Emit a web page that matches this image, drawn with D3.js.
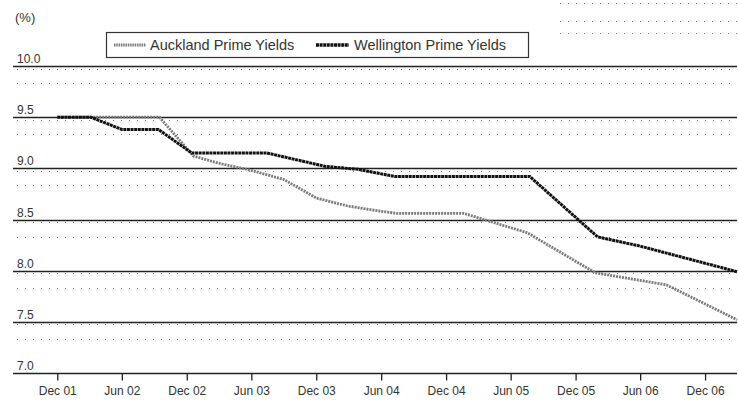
<!DOCTYPE html>
<html>
<head>
<meta charset="utf-8">
<script src="https://cdn.jsdelivr.net/npm/d3@7"></script>
<style>
  html, body { margin: 0; padding: 0; background: #fff; }
  svg { display: block; }
  text { font-family: "Liberation Sans", Arial, Helvetica, sans-serif; fill: #333; }
</style>
</head>
<body>
<svg id="chart" width="739" height="400"></svg>
<script>
// ---- data ----
const yTicks = [10.0, 9.5, 9.0, 8.5, 8.0, 7.5, 7.0];
const xTickDates = ["2001-12-01","2002-06-01","2002-12-01","2003-06-01","2003-12-01","2004-06-01",
                    "2004-12-01","2005-06-01","2005-12-01","2006-06-01","2006-12-01"];
const xTickLabels = ["Dec 01","Jun 02","Dec 02","Jun 03","Dec 03","Jun 04",
                     "Dec 04","Jun 05","Dec 05","Jun 06","Dec 06"];

const aucklandDates  = ["2001-12-01","2002-09-15","2002-12-20","2003-03-01","2003-06-01","2003-09-01",
                        "2003-12-01","2004-03-01","2004-06-01","2004-07-15","2005-01-20","2005-03-18",
                        "2005-07-18","2006-01-25","2006-08-15","2007-03-01"];
const aucklandValues = [9.50, 9.50, 9.12, 9.05, 8.98, 8.89,
                        8.71, 8.63, 8.58, 8.56, 8.56, 8.50,
                        8.37, 7.98, 7.86, 7.52];

const wellingtonDates  = ["2001-12-01","2002-03-05","2002-06-01","2002-09-12","2002-12-15","2003-07-15",
                          "2003-12-25","2004-03-28","2004-07-10","2005-07-25","2006-02-01","2006-06-01",
                          "2007-03-01"];
const wellingtonValues = [9.50, 9.50, 9.38, 9.38, 9.15, 9.15,
                          9.02, 8.99, 8.92, 8.92, 8.33, 8.24,
                          7.99];

const seriesNames = ["Auckland Prime Yields", "Wellington Prime Yields"];
const unitLabel = "(%)";

// ---- layout ----
const parse = d3.timeParse("%Y-%m-%d");
const svg = d3.select("#chart");
const plotLeft = 13, plotRight = 737, plotTop = 66, plotBottom = 373;

const x = d3.scaleTime()
  .domain([parse("2001-08-01"), parse("2007-03-01")])
  .range([14, 737]);
const y = d3.scaleLinear().domain([7, 10]).range([plotBottom, plotTop]);

// faint dotted scan-like lines
const dotG = svg.append("g");
yTicks.filter(v => v > 7).forEach(v => {
  [2.5, 17].forEach(off => {
    dotG.append("line")
      .attr("x1", plotLeft + 4).attr("x2", plotRight)
      .attr("y1", Math.round(y(v) + off) + 0.5).attr("y2", Math.round(y(v) + off) + 0.5)
      .attr("stroke", "#777").attr("stroke-width", 1)
      .attr("stroke-dasharray", "1,7");
  });
});
[3, 21, 33].forEach(py => {
  dotG.append("line")
    .attr("x1", 560).attr("x2", plotRight)
    .attr("y1", py + 0.5).attr("y2", py + 0.5)
    .attr("stroke", "#777").attr("stroke-width", 1)
    .attr("stroke-dasharray", "1,7");
});

// gridlines
svg.append("g").selectAll("line")
  .data(yTicks)
  .join("line")
  .attr("x1", plotLeft).attr("x2", plotRight)
  .attr("y1", d => Math.round(y(d)) + 0.5)
  .attr("y2", d => Math.round(y(d)) + 0.5)
  .attr("stroke", "#222")
  .attr("stroke-width", d => d === 7 ? 1.6 : 1.3);

// y labels
svg.append("g").selectAll("text")
  .data(yTicks)
  .join("text")
  .attr("x", 17)
  .attr("y", d => Math.round(y(d)) - 3)
  .attr("font-size", 12)
  .text(d => d.toFixed(1));

svg.append("text")
  .attr("x", 15).attr("y", 22)
  .attr("font-size", 13)
  .text(unitLabel);

// x axis ticks + labels
const xAxis = d3.axisBottom(x)
  .tickValues(xTickDates.map(parse))
  .tickFormat((d, i) => xTickLabels[i])
  .tickSize(7)
  .tickPadding(6);
const ax = svg.append("g")
  .attr("transform", `translate(0,${Math.round(y(7)) + 0.5})`)
  .call(xAxis);
ax.select(".domain").remove();
ax.selectAll(".tick line").attr("stroke", "#222").attr("stroke-width", 1.3);
ax.selectAll(".tick text")
  .attr("font-size", 12)
  .attr("font-family", "Liberation Sans, Arial, sans-serif")
  .attr("fill", "#333");

// lines
const line = d3.line()
  .x(d => x(d.date))
  .y(d => y(d.value));

const auck = aucklandDates.map((d, i) => ({ date: parse(d), value: aucklandValues[i] }));
const well = wellingtonDates.map((d, i) => ({ date: parse(d), value: wellingtonValues[i] }));

svg.append("path")
  .datum(auck)
  .attr("fill", "none")
  .attr("stroke", "#7a7a7a")
  .attr("stroke-width", 2.8)
  .attr("stroke-dasharray", "2,1")
  .attr("d", line);

svg.append("path")
  .datum(well)
  .attr("fill", "none")
  .attr("stroke", "#111")
  .attr("stroke-width", 3)
  .attr("stroke-dasharray", "3,0.6")
  .attr("d", line);

// legend
const lg = svg.append("g");
lg.append("rect")
  .attr("x", 106.5).attr("y", 32.5)
  .attr("width", 422).attr("height", 25)
  .attr("fill", "#fff").attr("stroke", "#333").attr("stroke-width", 1.2);

lg.append("line")
  .attr("x1", 114).attr("x2", 146).attr("y1", 45).attr("y2", 45)
  .attr("stroke", "#7a7a7a").attr("stroke-width", 3).attr("stroke-dasharray", "1.5,0.8");
lg.append("text")
  .attr("x", 150).attr("y", 50)
  .attr("font-size", 14.5)
  .text(seriesNames[0]);

lg.append("line")
  .attr("x1", 316).attr("x2", 349).attr("y1", 45).attr("y2", 45)
  .attr("stroke", "#111").attr("stroke-width", 3.5).attr("stroke-dasharray", "3,0.6");
lg.append("text")
  .attr("x", 354).attr("y", 50)
  .attr("font-size", 14.5)
  .text(seriesNames[1]);
</script>
</body>
</html>
